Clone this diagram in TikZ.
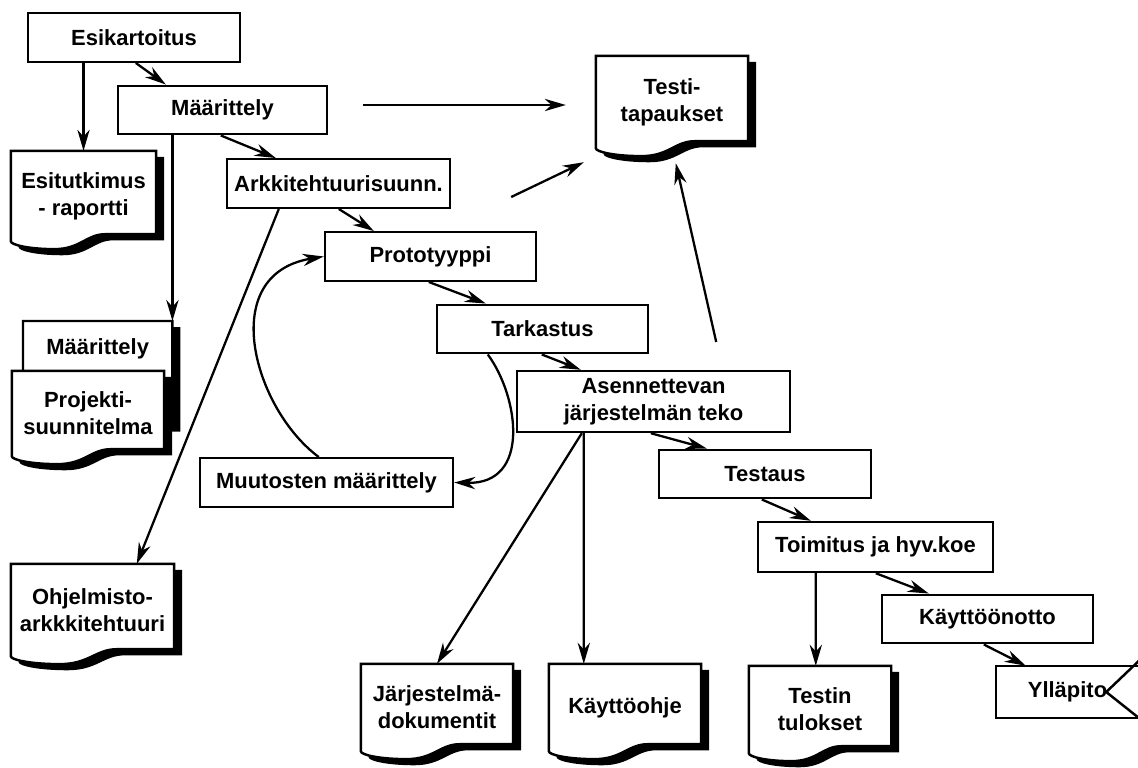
\documentclass[tikz,border=0pt]{standalone}
\usepackage{fontspec}
\setmainfont{Liberation Sans}
\usetikzlibrary{arrows.meta,calc,backgrounds}

\newcommand\docpath[3]{($(#1.north west)+(#2,#3)$) -- ($(#1.north east)+(#2,#3)$)
  -- ($(#1.south east)+(#2,#3)+(0pt,4pt)$)
  -- ($(#1.south west)!0.65!(#1.south east)+(#2,#3)+(0pt,4pt)$)
  .. controls ($(#1.south west)!0.52!(#1.south east)+(#2,#3)+(0pt,4pt)$)
  and ($(#1.south west)!0.48!(#1.south east)+(#2,#3)+(0pt,-4.5pt)$)
  .. ($(#1.south west)!0.3!(#1.south east)+(#2,#3)+(0pt,-4.5pt)$)
  .. controls ($(#1.south west)!0.12!(#1.south east)+(#2,#3)+(0pt,-4.5pt)$)
  and ($(#1.south west)+(#2,#3)+(0pt,-2pt)$)
  .. ($(#1.south west)+(#2,#3)$) -- cycle}
\newcommand\docshape[1]{%
  \begin{pgfonlayer}{background}
    \fill[black] \docpath{#1}{4.5pt}{-3.5pt};
    \draw[line width=1.4pt, fill=white] \docpath{#1}{0pt}{0pt};
  \end{pgfonlayer}}

\begin{document}
\begin{tikzpicture}[x=0.02cm, y=-0.02cm, line width=1.4pt,
    every node/.style={font=\fontsize{12.5}{15.5}\selectfont\bfseries},
    box/.style={draw, line width=1.4pt, rectangle, minimum height=0.97cm, inner sep=2pt, align=center},
    doc/.style={rectangle, inner sep=2pt, align=center},
    flow/.style={line width=1.3pt, -{Stealth[length=12pt,width=7pt]}}]
  \useasboundingbox (0,0) rectangle (1138,767);

  \node[box, minimum width=4.24cm] (esik) at (134,37.5) {Esikartoitus};
  \node[box, minimum width=4.18cm] (maar) at (222.5,110) {Määrittely};
  \node[box, minimum width=4.46cm] (arkk) at (338.5,183.5) {Arkkitehtuurisuunn.};
  \node[box, minimum width=4.22cm] (proto) at (430.5,256.5) {Prototyyppi};
  \node[box, minimum width=4.22cm] (tark) at (542.5,329) {Tarkastus};
  \node[box, minimum width=5.46cm, minimum height=1.22cm] (asen) at (653.5,401.5) {Asennettevan\\järjestelmän teko};
  \node[box, minimum width=5.06cm] (muut) at (326.5,482.5) {Muutosten määrittely};
  \node[box, minimum width=4.24cm] (test) at (765,474) {Testaus};
  \node[box, minimum width=4.7cm, minimum height=1cm] (toim) at (875.5,547) {Toimitus ja hyv.koe};
  \node[box, minimum width=4.22cm] (kayt) at (987.5,619) {Käyttöönotto};
  \node[doc, minimum width=2.82cm, minimum height=1cm] (yllap) at (1067.5,692) {Ylläpito};
  \draw (yllap.north east) -- (yllap.north west) -- (yllap.south west) -- (yllap.south east);
  \draw ([yshift=3pt]yllap.north east) -- ([xshift=-0.66cm]yllap.east) -- (yllap.south east);

  \node[doc, minimum width=2.86cm, minimum height=1.76cm] (esit) at (83.5,196) {Esitutkimus\\- raportti};
  \node[doc, minimum width=2.94cm, anchor=north west, inner ysep=0pt, text height=18.5pt, text depth=43.5pt] (maardoc) at (23,321) {Määrittely};
  \node[doc, minimum width=3cm, minimum height=1.66cm] (proj) at (88,413.5) {Projekti-\\suunnitelma};
  \node[doc, minimum width=3cm, minimum height=1.8cm] (testi) at (672,102) {Testi-\\tapaukset};
  \node[doc, minimum width=3.22cm, minimum height=1.8cm] (ohj) at (92.5,610) {Ohjelmisto-\\arkkkitehtuuri};
  \node[doc, minimum width=3cm, minimum height=1.7cm] (jarj) at (437,707.5) {Järjestelmä-\\dokumentit};
  \node[doc, minimum width=3cm, minimum height=1.7cm] (kaytto) at (625,707.5) {Käyttöohje};
  \node[doc, minimum width=2.8cm, minimum height=1.7cm] (testin) at (820,709.5) {Testin\\tulokset};
  \docshape{esit}
  \docshape{maardoc}
  \docshape{proj}
  \docshape{testi}
  \docshape{ohj}
  \docshape{jarj}
  \docshape{kaytto}
  \docshape{testin}

  \draw[flow] (esik.south -| esit.north) -- (esit.north);
  \draw[flow] ($(esik.south west)+(109,0)$) -- ($(maar.north west)+(49,0)$);
  \draw[flow] (maar.south -| maardoc.north east) -- (maardoc.north east);
  \draw[flow] ($(maar.south west)+(104,0)$) -- ($(arkk.north west)+(50,0)$);
  \draw[flow] ($(maar.east)+(35,-5)$) -- ($(testi.west)+(-30,3)$);
  \draw[flow] ($(arkk.east)+(60,13.5)$) -- ($(testi.south west)+(-12,14)$);
  \draw[flow] ($(arkk.south west)+(113,0)$) -- ($(proto.north west)+(50,0)$);
  \draw[flow] ($(arkk.south west)+(53,0)$) -- ($(ohj.north west)+(126,0)$);
  \draw[flow] ($(proto.south west)+(105,0)$) -- ($(tark.north west)+(50,0)$);
  \draw[flow] ($(tark.south west)+(106,0)$) -- ($(asen.north west)+(65,0)$);
  \draw[flow] ($(muut.north west)+(120,0)$) .. controls +(-65,-48) and +(-108,18) .. (proto.west);
  \draw[flow] ($(tark.south west)+(52,0)$) .. controls +(31,42) and +(77,2) .. (muut.east);
  \draw[flow] ($(tark.east)+(67,13)$) -- ($(testi.south west)+(80,15)$);
  \draw[flow] ($(asen.south west)+(135,0)$) -- ($(test.north west)+(49,0)$);
  \draw[flow] ($(asen.south west)+(66,0)$) -- (jarj.north);
  \draw[flow] ($(asen.south west)+(68,0)$) -- ($(kaytto.north west)+(35,0)$);
  \draw[flow] ($(test.south west)+(104,0)$) -- ($(toim.north west)+(54,0)$);
  \draw[flow] ($(toim.south west)+(59,0)$) -- ($(testin.north west)+(67,0)$);
  \draw[flow] ($(toim.south west)+(119,0)$) -- ($(kayt.north west)+(48,0)$);
  \draw[flow] ($(kayt.south west)+(103,0)$) -- ($(yllap.north west)+(30,0)$);
\end{tikzpicture}
\end{document}
